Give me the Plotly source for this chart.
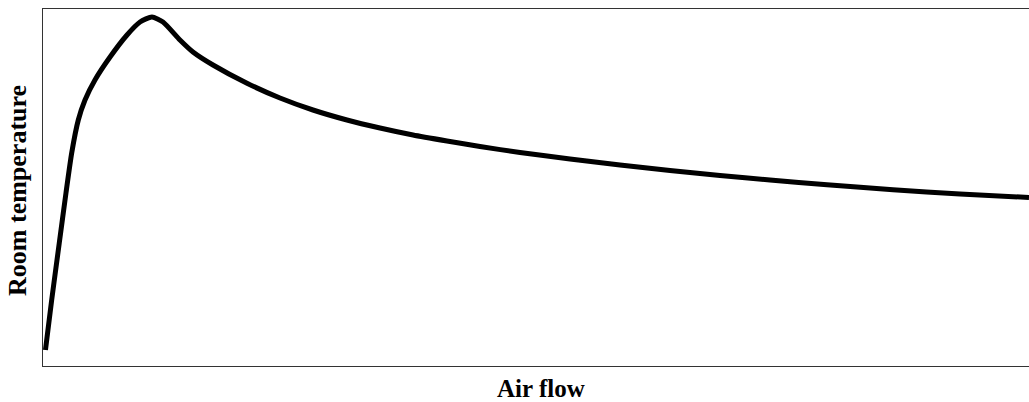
import plotly.graph_objects as go

# Air flow (arbitrary units, 0-100) and room temperature (arbitrary units, 0-100)
air_flow = [0.25, 0.88, 1.65, 2.33, 2.91, 3.58, 4.26, 5.27, 6.8, 8.52, 9.84, 11.05,
            12.17, 13.89, 15.21, 17.24, 20.69, 24.04, 27.38, 30.83, 34.18, 37.53,
            40.97, 44.32, 48.38, 53.45, 58.52, 63.59, 68.66, 73.73, 79.51, 86.21,
            93.0, 100.0]
room_temp = [4.48, 18.49, 34.45, 48.46, 59.66, 68.91, 74.51, 80.11, 86.55, 92.72,
             96.36, 97.76, 96.36, 91.32, 87.96, 84.31, 79.2, 75.07, 71.71, 68.91,
             66.67, 64.71, 63.03, 61.48, 59.80, 57.98, 56.30, 54.76, 53.36, 52.10,
             50.76, 49.36, 48.18, 47.20]

x_title = "Air flow"
y_title = "Room temperature"

fig = go.Figure()
fig.add_trace(go.Scatter(
    x=air_flow, y=room_temp, mode="lines",
    line=dict(color="black", width=5, shape="spline", smoothing=0.6),
    hoverinfo="skip", showlegend=False,
))

serif = "Liberation Serif, Times New Roman, serif"

fig.add_annotation(text="<b>%s</b>" % x_title, xref="paper", yref="paper",
                   x=0.505, y=-0.064, xanchor="center", yanchor="middle",
                   showarrow=False, font=dict(family=serif, size=25, color="black"))
fig.add_annotation(text="<b>%s</b>" % y_title, xref="paper", yref="paper",
                   x=-0.0254, y=0.493, xanchor="center", yanchor="middle",
                   textangle=-90, showarrow=False,
                   font=dict(family=serif, size=26, color="black"))

fig.update_layout(
    width=1029, height=402,
    margin=dict(l=43, r=0, t=9, b=36, autoexpand=False),
    paper_bgcolor="white", plot_bgcolor="white",
    xaxis=dict(range=[0, 100], showgrid=False, zeroline=False, showticklabels=False,
               ticks="", showline=True, linecolor="#333333", linewidth=1, mirror=True),
    yaxis=dict(range=[0, 100], showgrid=False, zeroline=False, showticklabels=False,
               ticks="", showline=True, linecolor="#333333", linewidth=1, mirror=False),
)

fig.write_html(
    "out.html",
    config={"displayModeBar": False},
    post_script="document.body.style.margin='0';document.body.style.overflow='hidden';",
)
